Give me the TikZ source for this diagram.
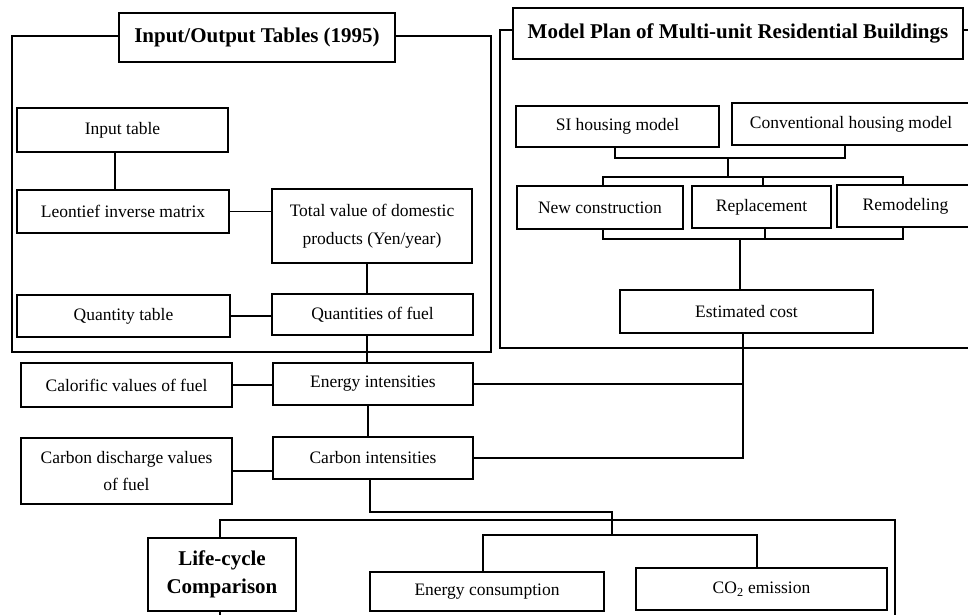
\documentclass[tikz,border=0pt]{standalone}
\usepackage{fontspec}
\setmainfont{Liberation Serif}
\begin{document}
\begin{tikzpicture}[x=1pt,y=-1pt,line width=1.6pt,
  box/.style={draw, fill=white, inner sep=0pt, align=center,
    font=\fontsize{17.5}{27.5}\selectfont},
  titlebox/.style={draw, fill=white, inner sep=0pt, align=center,
    font=\fontsize{21}{28}\selectfont\bfseries},
  wh/.style 2 args={minimum width=#1pt, minimum height=#2pt}]
\useasboundingbox (0,0) rectangle (968,615);

% frames of the two upper groups
\draw (12,36) rectangle (491,352);
\draw (500,30) rectangle (975,348);

% input/output group
\node[titlebox, wh={276}{49}] (io) at (257,37.5) {Input/Output Tables (1995)};
\node[box, wh={211}{44}] (input) at (122.5,130) {Input table};
\node[box, wh={212}{43}] (leontief) at (123,211.5) {Leontief inverse matrix};
\node[box, wh={200}{74}] (total) at (372,226) {Total value of domestic\\products (Yen/year)};
\node[box, wh={213}{42}] (qtable) at (123.5,316) {Quantity table};
\node[box, wh={201}{41}] (qfuel) at (372.5,314.5) {Quantities of fuel};

% intensities
\node[box, wh={211}{44}] (calor) at (126.5,385) {Calorific values of fuel};
\node[box, wh={200}{42}] (energy) at (373,384) {Energy intensities};
\node[box, wh={211}{66}] (cdis) at (126.5,471) {Carbon discharge values\\of fuel};
\node[box, wh={200}{42}] (carbon) at (373,458) {Carbon intensities};

% model plan group
\node[titlebox, wh={450}{51}] (mp) at (738,33.5) {Model Plan of Multi-unit Residential Buildings};
\node[box, wh={203}{41}] (si) at (617.5,126.5) {SI housing model};
\node[box, wh={238}{42}] (conv) at (851,124) {Conventional housing model};
\node[box, wh={166}{43}] (newc) at (600,207.5) {New construction};
\node[box, wh={139}{42}] (repl) at (761.5,207) {Replacement};
\node[box, wh={137}{42}] (remod) at (905.5,206) {Remodeling};
\node[box, wh={253}{43}] (est) at (746.5,311.5) {Estimated cost};

% comparison
\node[box, wh={148}{73}, font=\fontsize{21}{28}\selectfont\bfseries] (life) at (222,574.5) {Life-cycle\\Comparison};
\node[box, wh={234}{39}] (econs) at (487,591.5) {Energy consumption};
\node[box, wh={251}{42}] (co2) at (761.5,589) {CO\textsubscript{2} emission};

% junction points
\coordinate (sj) at (728,158);
\coordinate (tj) at (728,177);
\coordinate (bj) at (740,239);
\coordinate (ej) at (743,453);
\coordinate (cj) at (612,512);
\coordinate (kj) at (612,535);
\coordinate (lj) at (895,520);
\coordinate (rend) at (895,620);
\coordinate (lend) at (220,620);

% input/output connectors
\draw ([xshift=-7.5]input.south) -- ([xshift=-7.5]input.south |- leontief.north);
\draw (leontief.east) -- (leontief.east -| total.west);
\draw ([xshift=-5]total.south) -- ([xshift=-5]total.south |- qfuel.north);
\draw (qtable.east) -- (qtable.east -| qfuel.west);
\draw ([xshift=-5.5]qfuel.south) -- ([xshift=-5.5]qfuel.south |- energy.north);
\draw (calor.east) -- (calor.east -| energy.west);
\draw ([xshift=-5]energy.south) -- ([xshift=-5]energy.south |- carbon.north);
\draw (cdis.east) -- (cdis.east -| carbon.west);

% model plan connectors
\draw ([xshift=-2.5]si.south) |- (sj) -| ([xshift=-6]conv.south);
\draw (sj) -- (tj);
\draw ([xshift=3]newc.north) |- (tj) -| ([xshift=-2.5]remod.north);
\draw ([xshift=1.5]repl.north) -- ([xshift=1.5]repl.north |- tj);
\draw ([xshift=3]newc.south) |- (bj) -| ([xshift=-2.5]remod.south);
\draw ([xshift=3.5]repl.south) -- ([xshift=3.5]repl.south |- bj);
\draw (bj) -- (bj |- est.north);

% cost joins the intensities
\draw (ej |- est.south) -- (ej |- carbon.east) -- (carbon.east);
\draw (energy.east) -- (energy.east -| ej);

% comparison connectors
\draw ([xshift=-3]carbon.south) |- (cj) -- (kj);
\draw ([xshift=-4]econs.north) |- (kj) -| ([xshift=-4.5]co2.north);
\draw ([xshift=-2]life.north) |- (lj) -- (rend);
\draw ([xshift=-2]life.south) -- (lend);
\end{tikzpicture}
\end{document}
